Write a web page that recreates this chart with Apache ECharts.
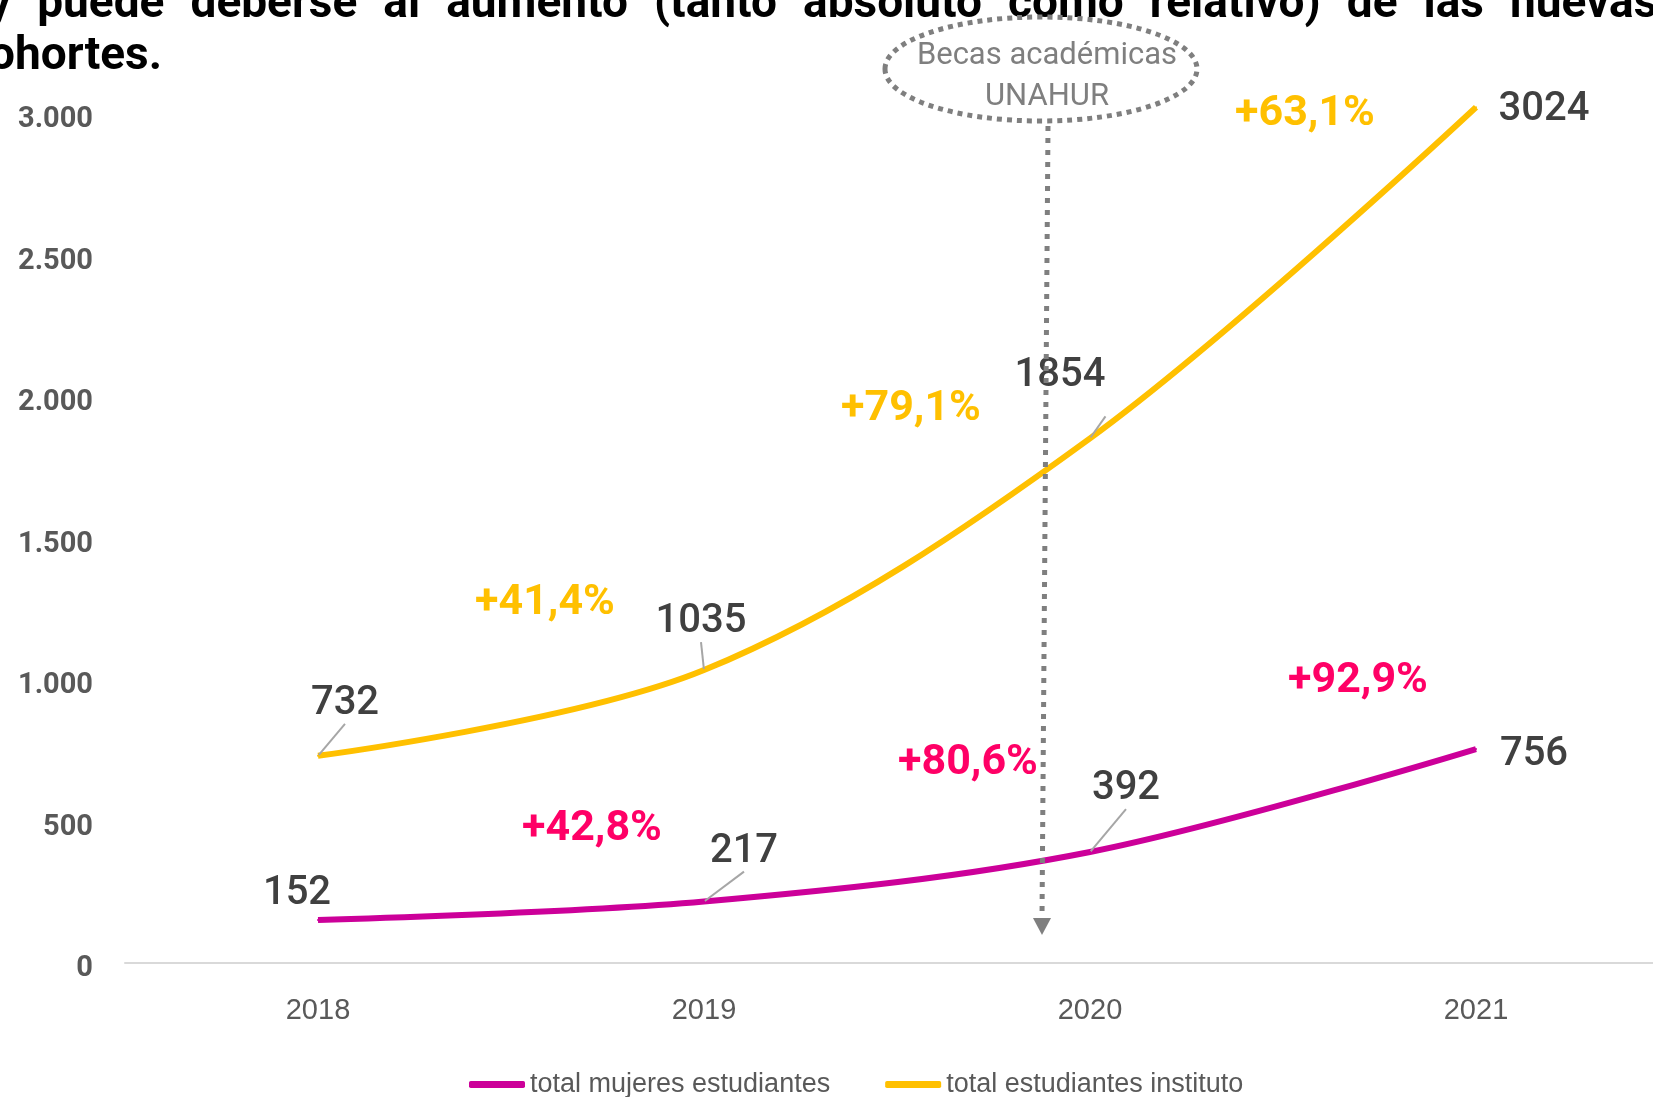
<!DOCTYPE html>
<html>
<head>
<meta charset="utf-8">
<script src="https://cdn.jsdelivr.net/npm/echarts@6/dist/echarts.min.js"></script>
<style>
  html, body { margin: 0; padding: 0; background: #fff; }
  #chart { width: 1653px; height: 1097px; }
</style>
</head>
<body>
<div id="chart"></div>
<script>
// chart data
const years = ["2018", "2019", "2020", "2021"];
const totalInstituto = [732, 1035, 1854, 3024];
const totalMujeres = [152, 217, 392, 756];
const yTicks = [0, 500, 1000, 1500, 2000, 2500, 3000];
const growthInstituto = ["+41,4%", "+79,1%", "+63,1%"];
const growthMujeres = ["+42,8%", "+80,6%", "+92,9%"];
const seriesNames = ["total mujeres estudiantes", "total estudiantes instituto"];

// label placement (px offsets from the point)
const instLabelOffset = [[27, -52], [-3, -48], [-30, -62], [68, 3]];
const mujLabelOffset = [[-21, -26], [40, -50], [36, -63], [58, 6]];
const instLeader = [true, true, true, false];
const mujLeader = [false, true, true, false];
const instGrowthPos = [[545, 603], [911, 409], [1305, 114]];
const mujGrowthPos = [[592, 829], [968, 763], [1358, 681]];

const YELLOW = "#FFC000";
const MAGENTA = "#CC0099";
const PINK = "#FF0066";
const GREY = "#595959";
const SANS = "'Liberation Sans', Arial, sans-serif";

const chart = echarts.init(document.getElementById("chart"));

function buildData(values, offsets, leaders) {
  return values.map((v, i) => ({
    value: v,
    label: { offset: offsets[i] },
    labelLine: { show: leaders[i] },
  }));
}

// top paragraph (cropped), roughly justified
const topFont = "bold 46px Roboto";
const line1 = ["y", "puede", "deberse", "al", "aumento", "(tanto", "absoluto", "como", "relativo)", "de", "las", "nuevas"];
const ctx = document.createElement("canvas").getContext("2d");
ctx.font = topFont;
const widths = line1.map((w) => ctx.measureText(w).width);
const startX = -12;
const lastX = 1510;
const inner = widths.slice(0, -1).reduce((a, b) => a + b, 0);
const gap = (lastX - startX - inner) / (line1.length - 1);
let cx = startX;
const topWords = line1.map((w, i) => {
  const el = {
    type: "text",
    x: cx,
    y: 5,
    z: 50,
    style: { text: w, font: topFont, fill: "#000", textVerticalAlign: "middle" },
  };
  cx += widths[i] + gap;
  return el;
});

function growthText(list, pos, color) {
  return list.map((t, i) => ({
    type: "text",
    x: pos[i][0],
    y: pos[i][1],
    z: 50,
    style: {
      text: t,
      fill: color,
      font: "bold 43px Roboto",
      textAlign: "center",
      textVerticalAlign: "middle",
    },
  }));
}

const labelStyle = {
  show: true,
  position: "inside",
  color: "#404040",
  fontFamily: "Roboto",
  fontWeight: 500,
  fontSize: 40,
};

function thousands(v) {
  return v.toString().replace(/\B(?=(\d{3})+(?!\d))/g, ".");
}

chart.setOption({
  animation: false,
  grid: { left: 125, width: 1544, top: 114, bottom: 134, containLabel: false, outerBoundsMode: "none" },
  legend: {
    left: 464,
    top: 1066,
    itemWidth: 56,
    itemHeight: 7,
    itemGap: 55,
    icon: "roundRect",
    textStyle: { fontFamily: SANS, fontSize: 27, color: GREY },
    data: seriesNames,
  },
  xAxis: {
    type: "category",
    data: years,
    axisTick: { show: false },
    axisLine: { lineStyle: { color: "#D9D9D9", width: 2 } },
    axisLabel: { margin: 33, fontFamily: SANS, fontSize: 29, color: GREY },
  },
  yAxis: {
    type: "value",
    min: 0,
    max: 3000,
    interval: 500,
    splitLine: { show: false },
    axisLine: { show: false },
    axisTick: { show: false },
    axisLabel: {
      margin: 32,
      formatter: (v) => (yTicks.includes(v) ? "{t|" + thousands(v) + "}" : ""),
      rich: {
        t: {
          padding: [12, 0, 0, 0],
          fontFamily: "Roboto",
          fontWeight: "bold",
          fontSize: 29,
          color: GREY,
        },
      },
    },
  },
  series: [
    {
      name: seriesNames[0],
      type: "line",
      smooth: 0.34,
      clip: false,
      symbol: "circle",
      symbolSize: 2,
      itemStyle: { color: MAGENTA },
      lineStyle: { color: MAGENTA, width: 6 },
      label: labelStyle,
      labelLine: { lineStyle: { color: "#A6A6A6", width: 2 } },
      emphasis: { disabled: true },
      data: buildData(totalMujeres, mujLabelOffset, mujLeader),
    },
    {
      name: seriesNames[1],
      type: "line",
      smooth: 0.34,
      clip: false,
      symbol: "circle",
      symbolSize: 2,
      itemStyle: { color: YELLOW },
      lineStyle: { color: YELLOW, width: 6 },
      label: labelStyle,
      labelLine: { lineStyle: { color: "#A6A6A6", width: 2 } },
      emphasis: { disabled: true },
      data: buildData(totalInstituto, instLabelOffset, instLeader),
    },
  ],
  graphic: [
    ...topWords,
    {
      type: "text",
      x: -35,
      y: 57,
      z: 50,
      style: { text: "cohortes.", font: topFont, fill: "#000", textVerticalAlign: "middle" },
    },
    ...growthText(growthInstituto, instGrowthPos, YELLOW),
    ...growthText(growthMujeres, mujGrowthPos, PINK),
    // "Becas académicas UNAHUR" callout
    {
      type: "ellipse",
      z: 60,
      shape: { cx: 1041, cy: 69, rx: 156, ry: 52 },
      style: { fill: "none", stroke: "#7F7F7F", lineWidth: 5, lineDash: [5, 5] },
    },
    {
      type: "text",
      x: 1047,
      y: 56,
      z: 60,
      style: { text: "Becas académicas", font: "31px Roboto", fill: "#7F7F7F", textAlign: "center", textVerticalAlign: "middle" },
    },
    {
      type: "text",
      x: 1047,
      y: 97,
      z: 60,
      style: { text: "UNAHUR", font: "31px Roboto", fill: "#7F7F7F", textAlign: "center", textVerticalAlign: "middle" },
    },
    {
      type: "line",
      z: 60,
      shape: { x1: 1048, y1: 126, x2: 1042, y2: 918 },
      style: { stroke: "#7F7F7F", lineWidth: 5, lineDash: [5, 7] },
    },
    {
      type: "polygon",
      z: 60,
      shape: { points: [[1033, 918], [1051, 918], [1042, 935]] },
      style: { fill: "#7F7F7F" },
    },
  ],
});
</script>
</body>
</html>
